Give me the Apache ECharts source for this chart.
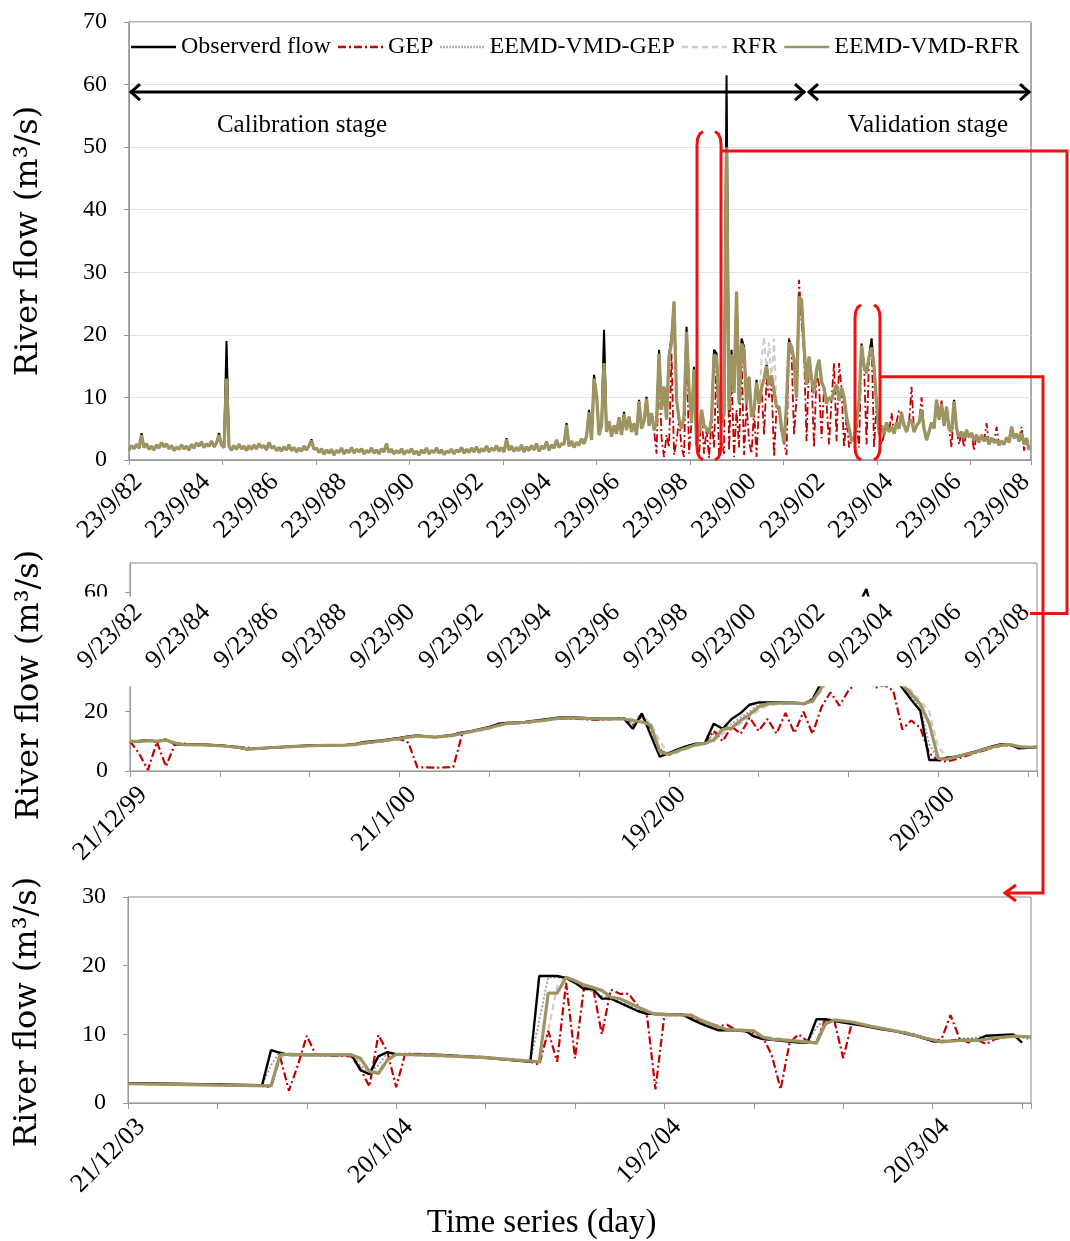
<!DOCTYPE html>
<html>
<head>
<meta charset="utf-8">
<script src="https://cdn.jsdelivr.net/npm/echarts@6/dist/echarts.min.js"></script>
<style>
  html, body { margin: 0; padding: 0; background: #fff; }
  #chart { width: 1070px; height: 1241px; }
</style>
</head>
<body>
<div id="chart"></div>
<script>
// ---------------------------------------------------------------------------
// Daily river flow (m3/s): observed record and four model simulations.
// ---------------------------------------------------------------------------
const seriesNames = ['Observerd flow', 'GEP', 'EEMD-VMD-GEP', 'RFR', 'EEMD-VMD-RFR'];

// Full record from 23/9/1982, one reading every SAMPLE_DAYS days.
const SAMPLE_DAYS = 26.74;
const RECORD_DAYS = 9647;

const fullObserved = [
  1.6,2.3,1.8,2.5,1.9,4.3,2.0,2.6,1.7,2.2, 1.6,2.4,1.9,2.8,2.1,2.6,1.8,2.3,1.5,2.1,
  1.7,2.4,1.8,2.2,1.6,2.5,1.9,2.7,2.2,2.9, 2.0,2.6,2.2,3.0,2.1,2.7,4.3,2.4,2.0,19.0,
  2.2,1.6,2.3,1.7,2.5,1.8,2.2,1.5,2.3,1.7, 2.4,1.8,2.6,2.0,2.3,1.6,2.8,1.9,2.2,1.5,
  2.0,1.4,2.1,1.6,2.4,1.5,2.0,1.3,1.9,1.4, 2.2,1.6,2.3,3.3,1.7,1.9,1.2,1.8,0.9,1.6,
  1.1,1.7,0.8,1.5,1.2,1.9,1.0,1.6,1.2,2.0, 1.1,1.7,1.3,1.8,1.0,1.5,1.2,1.9,1.1,1.6,
  1.0,1.8,1.3,2.6,1.2,1.7,1.0,1.5,1.1,1.8, 0.9,1.5,1.2,1.8,1.0,1.4,0.8,1.6,1.1,1.9,
  1.0,1.5,1.2,1.9,1.1,1.6,0.9,1.4,1.2,1.7, 1.0,1.6,1.3,2.0,1.1,1.7,1.2,1.9,1.3,2.1,
  1.2,1.8,1.4,2.2,1.3,1.9,1.5,2.3,1.4,2.0, 1.3,3.5,1.6,2.2,1.4,2.0,1.5,2.4,1.3,2.1,
  1.5,2.3,1.6,2.6,1.4,2.2,1.8,2.9,1.6,2.4, 1.9,3.2,2.0,2.6,2.5,5.9,2.2,3.0,2.0,2.8,
  2.4,3.4,2.6,3.8,8.0,3.2,13.6,10.4,4.0,5.5, 20.8,4.5,6.2,3.8,5.5,4.2,6.8,4.0,7.7,4.8,
  6.9,4.5,5.8,4.0,9.6,5.0,6.2,10.1,5.5,7.5, 4.8,6.0,17.6,8.0,11.7,6.5,16.8,19.7,25.3,9.6,
  6.5,5.0,7.0,21.3,11.2,6.0,14.9,2.4,4.5,8.0, 5.5,5.0,4.3,6.5,17.6,17.0,9.0,6.0,7.5,61.5,
  8.0,17.6,10.7,26.9,9.0,19.4,18.1,9.0,13.3,6.9, 8.0,12.8,9.0,11.5,13.0,15.2,12.0,13.5,11.0,8.5,
  8.5,5.0,2.7,9.0,19.2,18.1,16.0,10.0,26.1,25.6, 18.1,12.0,16.5,13.0,10.7,14.4,16.0,12.5,11.5,9.0,
  10.0,9.6,11.0,12.0,9.5,11.5,10.0,6.9,5.0,3.2, 3.2,6.0,9.5,18.6,15.0,13.9,16.5,19.4,14.9,9.0,
  4.3,5.5,4.0,6.0,4.5,5.3,4.2,6.0,5.0,7.5, 5.5,4.5,6.0,6.4,4.5,5.5,6.0,8.0,5.0,3.2,
  4.5,6.0,5.0,9.6,6.5,9.0,5.5,8.5,5.0,4.5, 9.6,5.0,3.7,4.5,3.5,4.8,3.6,4.3,3.2,4.0,
  2.8,4.0,3.0,3.7,2.5,3.5,2.8,3.2,2.4,3.0, 2.5,3.6,2.8,5.3,3.5,4.2,3.0,4.3,2.5,3.5,
  1.6
];

const fullEvrfr = [
  1.6,2.3,1.8,2.5,1.9,4.0,2.0,2.6,1.7,2.2, 1.6,2.4,1.9,2.8,2.1,2.6,1.8,2.3,1.5,2.1,
  1.7,2.4,1.8,2.2,1.6,2.5,1.9,2.7,2.2,2.9, 2.0,2.6,2.2,3.0,2.1,2.7,4.0,2.4,2.0,13.0,
  2.2,1.6,2.3,1.7,2.5,1.8,2.2,1.5,2.3,1.7, 2.4,1.8,2.6,2.0,2.3,1.6,2.8,1.9,2.2,1.5,
  2.0,1.4,2.1,1.6,2.4,1.5,2.0,1.3,1.9,1.4, 2.2,1.6,2.3,3.1,1.7,1.9,1.2,1.8,0.9,1.6,
  1.1,1.7,0.8,1.5,1.2,1.9,1.0,1.6,1.2,2.0, 1.1,1.7,1.3,1.8,1.0,1.5,1.2,1.9,1.1,1.6,
  1.0,1.8,1.3,2.6,1.2,1.7,1.0,1.5,1.1,1.8, 0.9,1.5,1.2,1.8,1.0,1.4,0.8,1.6,1.1,1.9,
  1.0,1.5,1.2,1.9,1.1,1.6,0.9,1.4,1.2,1.7, 1.0,1.6,1.3,2.0,1.1,1.7,1.2,1.9,1.3,2.1,
  1.2,1.8,1.4,2.2,1.3,1.9,1.5,2.3,1.4,2.0, 1.3,3.3,1.6,2.2,1.4,2.0,1.5,2.4,1.3,2.1,
  1.5,2.3,1.6,2.6,1.4,2.2,1.8,2.9,1.6,2.4, 1.9,3.2,2.0,2.6,2.5,5.6,2.2,3.0,2.0,2.8,
  2.4,3.4,2.6,3.8,7.6,3.2,13.0,10.4,4.0,5.5, 15.5,4.5,6.2,3.8,5.5,4.2,6.8,4.0,7.4,4.8,
  6.9,4.5,5.8,4.0,9.4,5.0,6.2,9.8,5.5,7.5, 4.8,6.0,17.0,8.0,11.7,6.5,16.5,18.8,25.3,9.6,
  6.5,5.0,7.0,20.5,11.2,6.0,14.5,2.8,4.5,8.0, 5.5,5.0,4.3,6.5,16.8,16.5,9.0,6.0,7.5,50.0,
  8.0,16.9,10.7,26.9,9.0,18.6,17.6,9.0,13.3,6.9, 8.0,12.4,9.0,11.5,13.0,15.0,12.0,13.5,11.0,8.5,
  8.5,5.0,2.7,9.0,18.8,18.1,16.0,10.0,26.1,25.6, 18.1,12.0,16.5,13.0,10.7,14.4,16.0,12.5,11.5,9.0,
  10.0,9.6,11.0,12.0,9.5,11.5,10.0,6.9,5.0,3.2, 3.2,6.0,9.5,18.3,15.0,13.9,16.5,18.0,14.9,9.0,
  4.3,5.5,4.0,6.0,4.5,5.3,4.2,6.0,5.0,7.5, 5.5,4.5,6.0,6.4,4.5,5.5,6.0,8.0,5.0,3.2,
  4.5,6.0,5.0,9.6,6.5,9.0,5.5,8.5,5.0,4.5, 9.4,5.0,3.7,4.5,3.5,4.8,3.6,4.3,3.2,4.0,
  2.8,4.0,3.0,3.7,2.5,3.5,2.8,3.2,2.4,3.0, 2.5,3.6,2.8,5.3,3.5,4.2,3.0,4.3,2.5,3.5,
  1.6
];

// GEP simulation, from reading number GEP_FIRST onwards
const GEP_FIRST = 180;
const fullGep = [
  2.4,3.4,2.6,3.8,7.5,3.2,12.0,10.0,4.0,5.5, 18.0,4.5,6.2,3.8,5.5,4.2,6.8,4.0,7.2,4.8,
  6.9,4.5,5.8,4.0,9.0,5.0,6.2,9.5,5.5,7.5, 4.8,1.0,15.0,3.5,0.5,4.0,2.0,17.0,0.8,3.0,
  6.5,2.0,0.5,19.0,1.0,6.0,13.5,2.4,0.5,8.0, 1.0,5.0,0.3,6.5,2.0,16.0,0.5,3.0,1.0,45.0,
  1.5,14.0,0.5,8.0,2.0,17.0,0.8,9.0,3.0,1.0, 8.0,0.5,9.0,11.5,4.0,13.0,10.0,12.5,0.5,8.5,
  8.0,5.0,2.7,0.8,19.5,17.0,4.0,10.0,28.8,22.0, 17.0,3.0,16.0,13.0,2.0,14.0,12.0,3.5,11.5,9.0,
  2.5,9.6,15.5,3.0,15.5,11.5,2.0,6.9,2.0,3.2, 3.2,6.0,2.0,18.0,15.0,2.5,16.5,19.4,2.0,9.0,
  4.3,2.5,4.0,6.0,4.5,7.5,4.2,6.0,8.0,7.5, 5.5,4.5,6.0,11.7,4.5,5.5,6.0,10.0,5.0,3.2,
  4.5,6.0,5.0,9.0,6.5,9.5,5.5,8.5,5.0,2.0, 9.0,5.0,2.5,4.5,2.0,4.8,3.6,4.3,1.5,4.0,
  2.8,4.0,3.0,5.9,2.5,3.5,2.8,5.3,2.4,3.0, 2.5,3.6,2.8,4.8,3.5,4.2,3.0,5.3,1.5,3.5,
  1.6
];

// RFR and EEMD-VMD-GEP around the main flood peaks: [reading number, flow], null = gap
const peaksRfr = [
  [36,4.3],[37,2.4],[38,2.0],[39,18.5],[40,2.2],[41,1.6], null,
  [188,4.0],[189,5.5],[190,20.2],[191,4.5],[192,6.2], null,
  [237,6.0],[238,7.5],[239,58.0],[240,8.0],[241,17.0], null,
  [251,12.4],[252,9.0],[253,16.0],[254,19.7],[255,14.0],[256,18.8],[257,12.0],[258,19.4],[259,8.5],[260,8.5]
];
const peaksEgep = [
  [38,2.0],[39,16.0],[40,2.2], null,
  [189,5.5],[190,18.0],[191,4.5], null,
  [238,7.5],[239,55.0],[240,8.0]
];

// date labels of the full record, every two years from 23/9/1982
const LABEL_STEP_DAYS = 730.5;
const topTickLabels = ['23/9/82','23/9/84','23/9/86','23/9/88','23/9/90','23/9/92','23/9/94',
                       '23/9/96','23/9/98','23/9/00','23/9/02','23/9/04','23/9/06','23/9/08'];
const bandTickLabels = ['9/23/82','9/23/84','9/23/86','9/23/88','9/23/90','9/23/92','9/23/94',
                        '9/23/96','9/23/98','9/23/00','9/23/02','9/23/04','9/23/06','9/23/08'];

// Window 1: 21/12/1999 onwards, [day, flow]; labels every 30 days
const win1Labels = ['21/12/99', '21/1/00', '19/2/00', '20/3/00'];
const win1Observed = [[0,9.8],[1,10.1],[2,10.4],[3,9.9],[4,10.6],[5,9.0],[6,8.9],[8,8.9],[10,8.6],[12,8.0],[13,7.3],[14,7.5],[16,7.9],[18,8.3],[20,8.6],[22,8.7],[24,8.8],[25,9.0],[26,9.7],[28,10.3],[30,11.1],[31,11.6],[32,12.0],[33,11.6],[34,11.4],[36,12.2],[37,13.0],[38,13.4],[40,14.8],[41,15.9],[42,16.2],[44,16.5],[46,17.3],[48,18.1],[50,17.9],[52,17.6],[55,17.6],[56,14.2],[57,19.4],[58,12.0],[59,4.8],[60,6.0],[61,7.3],[62,8.4],[63,9.2],[64,9.3],[65,15.9],[66,14.2],[67,17.5],[68,19.5],[69,22.3],[70,23.1],[72,23.1],[74,23.0],[75,22.5],[76,24.0],[77,30.0],[78,36.0],[79,42.0],[80,47.0],[81,55.0],[82,61.2],[83,50.0],[84,40.0],[85,32.0],[86,28.0],[87,24.0],[88,20.3],[89,3.7],[90,3.7],[91,4.5],[92,4.8],[94,6.4],[96,8.3],[97,9.0],[98,8.8],[99,7.6],[100,7.8],[101,8.1]];
const win1Gep = [[0,10.0],[1,6.0],[2,0.3],[3,9.8],[4,1.5],[5,9.0],[6,9.2],[8,8.8],[10,8.6],[12,8.1],[14,7.6],[16,7.9],[18,8.2],[20,8.5],[22,8.6],[24,8.7],[26,9.3],[28,10.0],[30,10.8],[31,9.5],[32,1.2],[33,1.2],[34,1.1],[35,1.2],[36,1.3],[37,12.5],[38,13.4],[40,14.6],[42,16.0],[44,16.2],[46,17.0],[48,17.7],[50,17.5],[52,17.2],[54,17.5],[55,17.8],[56,15.5],[57,18.5],[58,14.5],[59,7.0],[60,5.3],[61,7.0],[62,8.4],[63,9.0],[64,9.2],[65,13.5],[66,10.0],[67,15.0],[68,12.5],[69,18.0],[70,13.5],[71,17.5],[72,12.6],[73,19.5],[74,12.8],[75,20.0],[76,12.5],[77,21.5],[78,26.5],[79,22.0],[80,27.0],[81,30.0],[82,31.0],[83,28.0],[84,29.0],[85,27.0],[86,14.0],[87,17.0],[88,14.5],[89,6.0],[90,3.6],[91,3.2],[92,4.0],[93,5.0],[94,6.0],[95,6.8],[96,7.8],[97,8.5],[98,8.7],[99,8.0],[100,7.9],[101,8.0]];
const win1Egep = [[0,10.0],[2,10.2],[4,10.3],[5,9.3],[6,8.9],[10,8.5],[13,7.4],[16,7.8],[20,8.5],[24,8.7],[26,9.4],[28,10.2],[30,10.9],[32,11.7],[34,11.5],[36,12.3],[38,13.3],[40,14.7],[42,16.1],[44,16.4],[46,17.1],[48,18.0],[50,17.8],[52,17.5],[55,17.6],[56,15.8],[57,18.2],[58,14.0],[59,7.5],[60,5.5],[61,7.0],[62,8.2],[63,9.0],[64,9.3],[65,12.5],[66,14.0],[67,15.8],[68,18.0],[69,20.0],[70,22.5],[72,22.9],[74,22.8],[75,22.6],[76,24.5],[77,29.0],[78,34.0],[79,40.0],[80,45.0],[81,50.0],[82,57.0],[83,51.0],[84,41.0],[85,33.0],[86,28.0],[87,25.0],[88,21.5],[89,9.0],[90,4.0],[91,4.2],[92,5.0],[93,5.6],[94,6.3],[95,7.3],[96,8.1],[97,8.7],[98,8.8],[99,7.9],[100,8.0],[101,8.1]];
const win1Rfr = [[0,10.2],[2,10.0],[4,10.1],[5,9.6],[6,9.0],[10,8.6],[13,7.5],[16,7.8],[20,8.4],[24,8.6],[26,9.2],[28,10.0],[30,10.7],[32,11.5],[34,11.4],[36,11.9],[38,13.0],[40,14.2],[42,15.8],[44,16.2],[46,16.8],[48,17.6],[50,17.7],[52,17.4],[55,17.4],[56,17.6],[57,18.8],[58,16.0],[59,10.0],[60,5.4],[61,6.2],[62,7.4],[63,8.5],[64,9.0],[65,10.0],[66,12.5],[67,14.0],[68,16.0],[69,18.0],[70,20.5],[71,22.0],[72,22.5],[74,22.6],[75,22.5],[76,23.0],[77,27.0],[78,31.0],[79,36.0],[80,41.0],[81,46.0],[82,56.0],[83,54.0],[84,45.0],[85,36.0],[86,30.0],[87,27.0],[88,23.5],[89,20.0],[90,8.0],[91,4.5],[92,4.6],[93,5.4],[94,6.0],[95,7.0],[96,7.9],[97,8.5],[98,8.8],[99,8.3],[100,8.0],[101,8.2]];
const win1Evrfr = [[0,10.0],[1,9.9],[2,10.2],[3,10.0],[4,10.4],[5,9.4],[6,8.9],[8,8.8],[10,8.5],[12,8.0],[13,7.4],[14,7.5],[16,7.9],[18,8.2],[20,8.5],[22,8.6],[24,8.7],[25,8.9],[26,9.4],[28,10.1],[30,10.9],[31,11.4],[32,11.8],[33,11.6],[34,11.4],[36,12.0],[37,12.7],[38,13.3],[40,14.5],[41,15.4],[42,16.0],[44,16.4],[46,17.0],[48,17.9],[50,17.8],[52,17.5],[55,17.5],[56,17.0],[57,16.5],[58,15.5],[59,6.5],[60,5.6],[61,6.8],[62,7.8],[63,8.8],[64,9.3],[65,10.5],[66,14.0],[67,14.5],[68,17.0],[69,19.0],[70,21.5],[71,22.6],[72,22.8],[74,22.9],[75,22.7],[76,23.5],[77,28.0],[78,33.0],[79,38.0],[80,43.0],[81,47.0],[82,52.0],[83,52.0],[84,42.0],[85,34.0],[86,29.0],[87,26.0],[88,22.5],[89,16.0],[90,4.2],[91,4.0],[92,4.8],[93,5.6],[94,6.2],[95,7.2],[96,8.0],[97,8.7],[98,8.9],[99,8.2],[100,8.0],[101,8.1]];

// Window 2: 21/12/2003 onwards, [day, flow]; labels every 30 days
const win2Labels = ['21/12/03', '20/1/04', '19/2/04', '20/3/04'];
const win2Observed = [[0,2.9],[5,2.8],[10,2.7],[15,2.6],[16,7.7],[17,7.3],[18,7.0],[25,7.0],[26,4.8],[27,4.2],[28,6.8],[29,7.4],[30,7.1],[35,7.0],[40,6.6],[45,6.0],[46,18.5],[48,18.5],[49,18.2],[50,17.5],[51,16.6],[52,16.6],[53,15.2],[54,15.2],[55,14.6],[56,14.0],[57,13.4],[58,13.0],[62,12.9],[63,12.2],[64,11.6],[65,11.1],[66,10.6],[69,10.6],[70,9.7],[71,9.3],[72,9.2],[75,8.8],[76,8.8],[77,12.2],[78,12.2],[80,11.7],[82,11.3],[84,10.8],[86,10.4],[88,9.8],[90,9.0],[91,8.9],[93,9.2],[95,9.2],[96,9.8],[99,10.0],[100,8.8]];
const win2Gep = [[0,2.8],[5,2.7],[10,2.6],[15,2.5],[16,2.3],[17,6.8],[18,1.8],[19,5.5],[20,9.8],[21,7.0],[23,6.9],[25,6.8],[26,5.0],[27,2.4],[28,9.9],[29,7.5],[30,2.3],[31,7.2],[35,7.0],[40,6.7],[45,6.0],[46,5.6],[47,10.5],[48,6.0],[49,17.5],[50,6.5],[51,16.8],[52,16.9],[53,10.0],[54,16.5],[55,15.9],[56,15.9],[57,14.2],[58,13.3],[59,2.0],[60,12.8],[62,12.8],[64,12.0],[65,11.6],[66,11.2],[67,11.4],[68,10.6],[70,10.2],[71,9.6],[72,7.0],[73,2.0],[74,8.8],[75,10.0],[76,9.0],[77,8.8],[78,12.2],[79,12.0],[80,6.5],[81,11.9],[82,11.4],[84,10.9],[86,10.5],[88,10.0],[90,9.0],[91,9.3],[92,12.8],[93,9.4],[94,8.8],[95,9.2],[96,8.6],[97,9.3],[99,9.8],[101,9.6]];
const win2Egep = [[0,2.85],[10,2.7],[15,2.6],[16,5.5],[17,7.5],[18,7.0],[25,7.0],[26,5.5],[27,4.4],[28,5.5],[29,7.3],[30,7.1],[40,6.7],[45,6.0],[46,12.0],[47,18.3],[49,18.3],[50,17.6],[51,16.8],[53,15.6],[54,15.3],[58,13.1],[62,12.9],[66,10.8],[69,10.6],[70,9.9],[72,9.3],[76,8.8],[77,11.0],[78,12.2],[82,11.4],[88,9.9],[91,9.0],[96,9.7],[99,9.9],[101,9.2]];
const win2Rfr = [[0,2.8],[10,2.6],[16,2.5],[17,6.5],[18,7.2],[25,7.0],[26,6.0],[27,4.8],[28,4.6],[29,6.5],[30,7.0],[40,6.6],[45,6.1],[46,5.9],[47,10.5],[48,17.0],[49,18.4],[50,17.6],[51,17.0],[53,16.4],[54,15.6],[55,15.2],[58,13.5],[59,13.0],[63,12.8],[64,12.2],[66,11.0],[70,10.5],[71,9.7],[76,8.9],[77,9.0],[78,12.0],[80,11.8],[85,10.7],[90,9.2],[95,9.1],[99,9.8],[101,9.7]];
const win2Evrfr = [[0,2.8],[5,2.7],[10,2.6],[16,2.5],[17,7.0],[18,7.1],[20,7.0],[25,7.0],[26,6.5],[27,4.6],[28,4.3],[29,6.2],[30,7.1],[35,6.9],[40,6.6],[45,6.1],[46,6.0],[47,16.0],[48,16.0],[49,18.3],[50,17.8],[51,17.2],[52,16.8],[53,16.4],[54,15.4],[55,15.2],[56,14.6],[57,14.0],[58,13.4],[59,12.9],[63,12.8],[64,12.1],[65,11.6],[66,11.1],[67,10.7],[70,10.5],[71,9.6],[72,9.3],[76,8.9],[77,8.7],[78,11.5],[79,12.1],[81,11.8],[83,11.2],[85,10.7],[87,10.2],[89,9.5],[91,8.9],[93,9.1],[95,9.1],[97,9.5],[99,9.7],[100,9.7],[101,9.6]];
const WINDOW_LABEL_STEP = 30;

// Calibration / validation split and the two zoom windows on the full record (days from 23/9/1982)
const calibrationSpan = [0, 7230];
const validationSpan = [7262, RECORD_DAYS];
const windowA = [6075, 6332];
const windowB = [7765, 8032];

// ---------------------------------------------------------------------------
const SERIF = 'Liberation Serif';
const TITLE_FONT = 'DejaVu Serif';
const RED = '#EE1111';

const look = {
  'Observerd flow': { color: '#000000', type: 'solid',      width: [2.0, 2.4], z: 4, dash: [45] },
  'GEP':            { color: '#C00000', type: [8, 3, 2, 3], width: [1.8, 2.2], z: 3, dash: [8, 3, 2, 3] },
  'EEMD-VMD-GEP':   { color: '#9A9A9A', type: [2, 2],       width: [1.5, 1.8], z: 2, dash: [1.5, 1.5] },
  'RFR':            { color: '#CCCCCC', type: [6, 4],       width: [2.0, 2.2], z: 1, dash: [6, 4] },
  'EEMD-VMD-RFR':   { color: '#9E9462', type: 'solid',      width: [3.3, 3.2], z: 5, dash: [45] }
};

// legend key drawn as a short stroke with the series' dash pattern
function keyIcon(pattern) {
  let x = 0, k = 0, d = '';
  while (x < 45 - 1e-6) {
    const len = Math.min(pattern[k % pattern.length], 45 - x);
    if (k % 2 === 0) d += 'M' + x + ',0h' + len + 'v2.4h' + (-len) + 'Z';
    x += len; k++;
  }
  return 'path://' + d;
}

function fromReadings(values, first) {
  return values.map((q, k) => [(first + k) * SAMPLE_DAYS, q]);
}
function fromPeaks(list) {
  const out = [];
  list.forEach((p, k) => {
    if (p) out.push([p[0] * SAMPLE_DAYS, p[1]]);
    else out.push([list[k - 1][0] * SAMPLE_DAYS + 1, '-']);
  });
  return out;
}

function mkLine(name, panel, data) {
  const s = look[name];
  return {
    type: 'line', name: name, data: data,
    xAxisIndex: panel, yAxisIndex: panel,
    symbol: 'none', showSymbol: false, animation: false, z: s.z,
    lineStyle: { color: s.color, width: s.width[panel === 0 ? 0 : 1], type: s.type },
    itemStyle: { color: s.color }
  };
}

const series = [
  mkLine('Observerd flow', 0, fromReadings(fullObserved, 0)),
  mkLine('GEP', 0, fromReadings(fullGep, GEP_FIRST)),
  mkLine('EEMD-VMD-GEP', 0, fromPeaks(peaksEgep)),
  mkLine('RFR', 0, fromPeaks(peaksRfr)),
  mkLine('EEMD-VMD-RFR', 0, fromReadings(fullEvrfr, 0)),

  mkLine('Observerd flow', 1, win1Observed),
  mkLine('GEP', 1, win1Gep),
  mkLine('EEMD-VMD-GEP', 1, win1Egep),
  mkLine('RFR', 1, win1Rfr),
  mkLine('EEMD-VMD-RFR', 1, win1Evrfr),

  mkLine('Observerd flow', 2, win2Observed),
  mkLine('GEP', 2, win2Gep),
  mkLine('EEMD-VMD-GEP', 2, win2Egep),
  mkLine('RFR', 2, win2Rfr),
  mkLine('EEMD-VMD-RFR', 2, win2Evrfr)
];

const tickStyle = { show: true, length: 5, lineStyle: { color: '#999' } };
const axisLineStyle = { show: true, lineStyle: { color: '#999', width: 1 } };
const yName = 'River flow (m\u00B3/s)';
const yNameStyle = { fontFamily: TITLE_FONT, fontSize: 32, color: '#000' };

function windowAxis(grid, extra) {
  return Object.assign({
    gridIndex: grid, type: 'value', position: 'bottom', min: 0, max: 101, interval: 10,
    axisLine: axisLineStyle, axisTick: { show: true, length: 6, lineStyle: { color: '#999' } },
    splitLine: { show: false }, axisLabel: { show: false }
  }, extra || {});
}

const option = {
  backgroundColor: '#fff',
  animation: false,
  legend: {
    data: seriesNames.map(n => ({ name: n, icon: keyIcon(look[n].dash) })),
    left: 131, top: 35, padding: 0,
    itemWidth: 45, itemHeight: 2.4, itemGap: 7,
    textStyle: { fontFamily: SERIF, fontSize: 24, color: '#000' }
  },
  grid: [
    { left: 129, top: 22, width: 902, height: 438, show: true, borderColor: '#555', borderWidth: 1, outerBoundsMode: 'none' },
    { left: 130, top: 563, width: 907, height: 208, show: true, borderColor: '#888', borderWidth: 1, outerBoundsMode: 'none' },
    { left: 128, top: 897, width: 903, height: 206, show: true, borderColor: '#888', borderWidth: 1, outerBoundsMode: 'none' }
  ],
  xAxis: [
    { gridIndex: 0, type: 'value', position: 'bottom', min: 0, max: RECORD_DAYS, interval: 1000,
      axisLine: axisLineStyle, axisTick: tickStyle, axisLabel: { show: false }, splitLine: { show: false } },
    windowAxis(1),
    windowAxis(2, {
      name: 'Time series (day)', nameLocation: 'middle', nameGap: 104,
      nameTextStyle: { fontFamily: SERIF, fontSize: 33, color: '#000', padding: [0, 76, 0, 0] }
    })
  ],
  yAxis: [
    { gridIndex: 0, type: 'value', min: 0, max: 70, interval: 10,
      axisLine: axisLineStyle, axisTick: tickStyle,
      splitLine: { show: true, lineStyle: { color: '#E4E4E4', width: 1 } },
      axisLabel: { fontFamily: SERIF, fontSize: 24, color: '#000', margin: 22 },
      name: yName, nameLocation: 'middle', nameGap: 84, nameTextStyle: yNameStyle },
    { gridIndex: 1, type: 'value', min: 0, max: 70, interval: 20,
      axisLine: axisLineStyle, axisTick: tickStyle, splitLine: { show: false },
      axisLabel: { fontFamily: SERIF, fontSize: 24, color: '#000', margin: 22, showMaxLabel: false },
      name: yName, nameLocation: 'middle', nameGap: 84,
      nameTextStyle: Object.assign({ padding: [0, 36, 0, 0] }, yNameStyle) },
    { gridIndex: 2, type: 'value', min: 0, max: 30, interval: 10,
      axisLine: axisLineStyle, axisTick: tickStyle, splitLine: { show: false },
      axisLabel: { fontFamily: SERIF, fontSize: 24, color: '#000', margin: 22 },
      name: yName, nameLocation: 'middle', nameGap: 84,
      nameTextStyle: Object.assign({ padding: [0, 24, 0, 0] }, yNameStyle) }
  ],
  series: series
};

const chart = echarts.init(document.getElementById('chart'));
chart.setOption(option);

// ---------------------------------------------------------------------------
// Annotations: slanted date labels, stage arrows, window brackets and the
// links to the zoom panels
// ---------------------------------------------------------------------------
const topPx = (d, q) => chart.convertToPixel({ xAxisIndex: 0, yAxisIndex: 0 }, [d, q]);
const midPx = (d, q) => chart.convertToPixel({ xAxisIndex: 1, yAxisIndex: 1 }, [d, q]);
const botPx = (d, q) => chart.convertToPixel({ xAxisIndex: 2, yAxisIndex: 2 }, [d, q]);

function stroke(points, color, width, z) {
  return { type: 'polyline', z: z, silent: true, shape: { points: points },
           style: { stroke: color, lineWidth: width, fill: null, lineJoin: 'miter' } };
}
function doubleArrow(x0, x1, y) {
  const h = 10, v = 8;
  return [
    stroke([[x0, y], [x1, y]], '#000', 3, 30),
    stroke([[x0 + h, y - v], [x0 + 1, y], [x0 + h, y + v]], '#000', 3, 30),
    stroke([[x1 - h, y - v], [x1 - 1, y], [x1 - h, y + v]], '#000', 3, 30)
  ];
}
function bracket(x, yT, yB, dir) {
  const h = 6 * dir;
  return stroke([[x + h, yT], [x + h * 0.45, yT + 2.5], [x + h * 0.1, yT + 7], [x, yT + 13],
                 [x, yB - 13], [x + h * 0.1, yB - 7], [x + h * 0.45, yB - 2.5], [x + h, yB]], RED, 3, 30);
}
function label(text, p) {
  return { type: 'text', z: 30, silent: true, x: p[0], y: p[1],
           style: { text: text, fontFamily: SERIF, fontSize: 25, fill: '#000', align: 'center', verticalAlign: 'middle' } };
}
// date label running up to the right, ending just below its tick
function slantedDate(text, x, y) {
  return { type: 'text', z: 30, silent: true, x: x, y: y, rotation: Math.PI / 4,
           style: { text: text, fontFamily: SERIF, fontSize: 26, fill: '#000', align: 'right', verticalAlign: 'middle' } };
}

const gfx = [];
const topBase = topPx(0, 0)[1];
const bandBase = midPx(0, 54.7)[1];
topTickLabels.forEach((t, k) => {
  const x = topPx(k * LABEL_STEP_DAYS, 0)[0];
  gfx.push(slantedDate(t, x + 9, topBase + 18));
});
bandTickLabels.forEach((t, k) => {
  const x = topPx(k * LABEL_STEP_DAYS, 0)[0];
  gfx.push(slantedDate(t, x + 9, bandBase));
});
win1Labels.forEach((t, k) => {
  const p = midPx(k * WINDOW_LABEL_STEP, 0);
  gfx.push(slantedDate(t, p[0] + 13, p[1] + 20));
});
win2Labels.forEach((t, k) => {
  const p = botPx(k * WINDOW_LABEL_STEP, 0);
  gfx.push(slantedDate(t, p[0] + 13, p[1] + 20));
});

const arrowY = topPx(0, 58.8)[1];
gfx.push(...doubleArrow(topPx(calibrationSpan[0], 0)[0] + 1, topPx(calibrationSpan[1], 0)[0], arrowY));
gfx.push(...doubleArrow(topPx(validationSpan[0], 0)[0], topPx(validationSpan[1], 0)[0] - 1, arrowY));
gfx.push(label('Calibration stage', topPx(1850, 53.5)));
gfx.push(label('Validation stage', topPx(8545, 53.5)));

// window A -> middle panel
const aL = topPx(windowA[0], 52.5), aR = topPx(windowA[1], 52.5);
gfx.push(bracket(aL[0], aL[1], topBase, 1), bracket(aR[0], aR[1], topBase, -1));
const aLinkY = topPx(0, 49.4)[1];
const aEnd = midPx(101, 53);
gfx.push(stroke([[aR[0], aLinkY], [1067, aLinkY], [1067, aEnd[1]], [aEnd[0] - 7, aEnd[1]]], RED, 3, 30));

// window B -> bottom panel
const bL = topPx(windowB[0], 24.8), bR = topPx(windowB[1], 24.8);
gfx.push(bracket(bL[0], bL[1], topBase, 1), bracket(bR[0], bR[1], topBase, -1));
const bLinkY = topPx(0, 13.3)[1];
const bEnd = botPx(101, 30);
const bY = bEnd[1] - 4, bTip = bEnd[0] - 26;
gfx.push(stroke([[bR[0], bLinkY], [1043, bLinkY], [1043, bY], [bTip, bY]], RED, 3, 30));
gfx.push(stroke([[bTip + 11, bY - 8], [bTip, bY], [bTip + 11, bY + 8]], RED, 3, 30));

// white strip across the middle panel carrying the US-format date labels
const stripTop = midPx(0, 58.7)[1], stripBottom = midPx(0, 28.5)[1];
gfx.push({ type: 'rect', z: 10, silent: true,
           shape: { x: 60, y: stripTop, width: midPx(101, 0)[0] - 62, height: stripBottom - stripTop },
           style: { fill: '#fff' } });

chart.setOption({ graphic: { elements: gfx } });
</script>
</body>
</html>
